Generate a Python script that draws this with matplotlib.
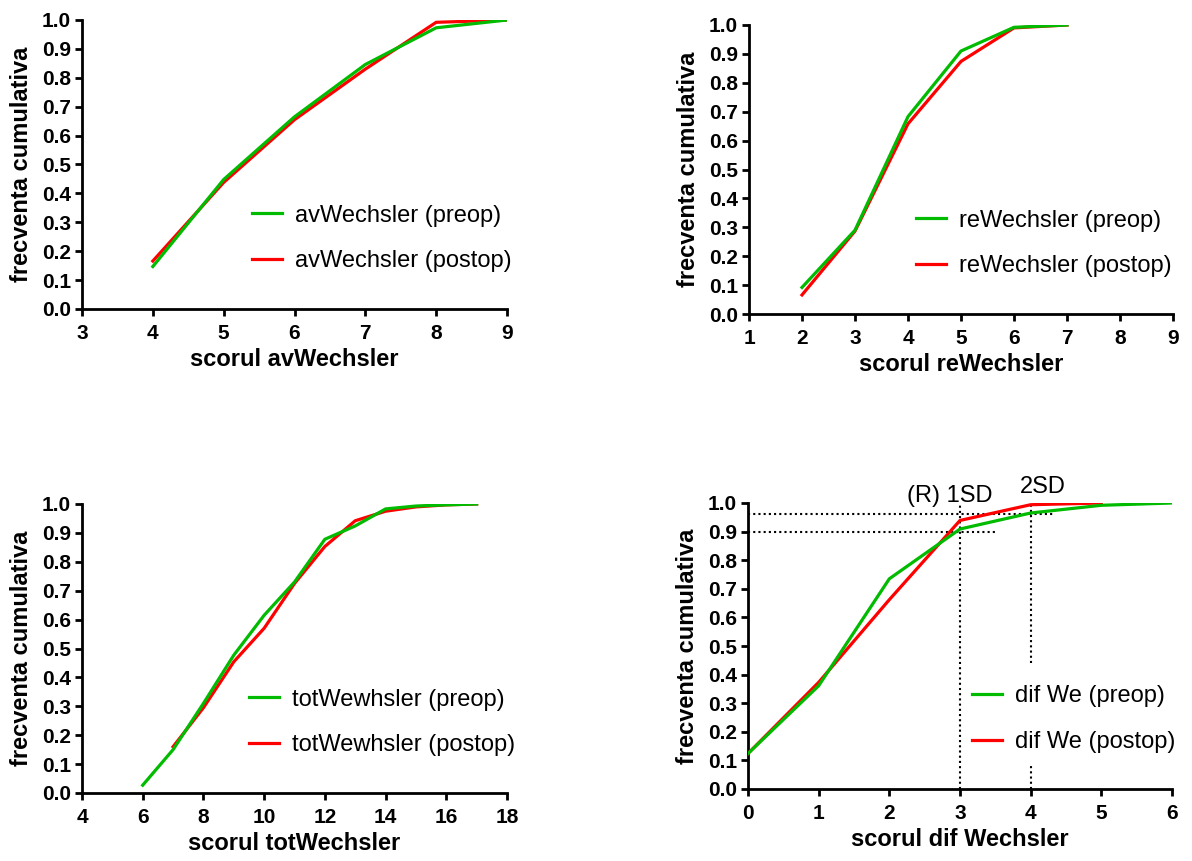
import matplotlib
matplotlib.use('Agg')
import matplotlib.pyplot as plt

plt.rcParams['font.family'] = ['Liberation Sans', 'DejaVu Sans']

GREEN = '#00BB00'
RED = '#FF0000'

# avWechsler
av_x_pre = [4, 5, 6, 7, 8, 9]
av_pre = [0.147, 0.448, 0.665, 0.846, 0.973, 1.0]
av_x_post = [4, 5, 6, 7, 8, 9]
av_post = [0.166, 0.438, 0.655, 0.830, 0.992, 1.0]

# reWechsler
re_x_pre = [2, 3, 4, 5, 6, 7]
re_pre = [0.092, 0.290, 0.683, 0.910, 0.992, 1.0]
re_x_post = [2, 3, 4, 5, 6, 7]
re_post = [0.066, 0.287, 0.658, 0.874, 0.990, 1.0]

# totWechsler
tot_x_pre = [6, 7, 8, 9, 10, 11, 12, 13, 14, 15, 16, 17]
tot_pre = [0.027, 0.150, 0.310, 0.477, 0.615, 0.730, 0.878, 0.924, 0.983, 0.993, 0.997, 1.0]
tot_x_post = [7, 8, 9, 10, 11, 12, 13, 14, 15, 16, 17]
tot_post = [0.160, 0.295, 0.454, 0.570, 0.725, 0.853, 0.942, 0.975, 0.990, 0.997, 1.0]

# dif Wechsler
dif_x_pre = [0, 1, 2, 3, 4, 5, 6]
dif_pre = [0.124, 0.361, 0.735, 0.909, 0.965, 0.992, 1.0]
dif_x_post = [0, 1, 2, 3, 4, 5]
dif_post = [0.124, 0.373, 0.662, 0.939, 0.994, 1.0]

yticks = [round(0.1 * i, 1) for i in range(11)]

panels = [
    # pixel rect (left, top, right, bottom), data, labels, x axis, legend x
    ([82, 20, 507, 309], av_x_pre, av_pre, av_x_post, av_post,
     ('avWechsler (preop)', 'avWechsler (postop)'), (3, 9), range(3, 10),
     'scorul avWechsler', 0.40),
    ([749, 25, 1173, 314], re_x_pre, re_pre, re_x_post, re_post,
     ('reWechsler (preop)', 'reWechsler (postop)'), (1, 9), range(1, 10),
     'scorul reWechsler', 0.394),
    ([82, 504, 507, 793], tot_x_pre, tot_pre, tot_x_post, tot_post,
     ('totWewhsler (preop)', 'totWewhsler (postop)'), (4, 18), range(4, 19, 2),
     'scorul totWechsler', 0.393),
    ([748, 503, 1172, 789], dif_x_pre, dif_pre, dif_x_post, dif_post,
     ('dif We (preop)', 'dif We (postop)'), (0, 6), range(0, 7),
     'scorul dif Wechsler', 0.528),
]

W, H = 1192, 861
fig = plt.figure(figsize=(W / 100, H / 100), dpi=100)

axes = []
for rect, xp, yp, xq, yq, labels, xlim, xt, xlabel, lx in panels:
    l, t, r, b = rect
    ax = fig.add_axes([l / W, 1 - b / H, (r - l) / W, (b - t) / H])
    ax.plot(xq, yq, color=RED, lw=2.3, label=labels[1], zorder=3)
    ax.plot(xp, yp, color=GREEN, lw=2.3, label=labels[0], zorder=4)
    ax.set_xlim(*xlim)
    ax.set_ylim(0, 1.0)
    ax.set_xticks(list(xt))
    ax.set_yticks(yticks)
    ax.set_yticklabels([f'{v:.1f}' for v in yticks])
    for s in ['top', 'right']:
        ax.spines[s].set_visible(False)
    for s in ['left', 'bottom']:
        ax.spines[s].set_linewidth(2)
    ax.tick_params(width=2, length=5, labelsize=15)
    ax.tick_params(axis='x', pad=6)
    ax.tick_params(axis='y', pad=3)
    for lab in ax.get_xticklabels() + ax.get_yticklabels():
        lab.set_fontweight('bold')
    ax.set_xlabel(xlabel, fontsize=17, fontweight='bold', labelpad=3.5)
    ax.set_ylabel('frecventa cumulativa', fontsize=17, fontweight='bold', labelpad=6)
    h, lb = ax.get_legend_handles_labels()
    ax.legend(h[::-1], lb[::-1], loc='center left', bbox_to_anchor=(lx, 0.244),
              frameon=False, fontsize=17, handlelength=1.27, handletextpad=0.55,
              labelspacing=1.0, borderpad=0, borderaxespad=0)
    axes.append(ax)

# reference lines on dif Wechsler panel
ax = axes[3]
dot = dict(color='black', lw=1.5, linestyle=(0, (1, 1.5)), zorder=2)
ax.plot([0, 4.35], [0.962, 0.962], **dot)
ax.plot([0, 3.5], [0.90, 0.90], **dot)
ax.plot([3, 3], [0, 0.993], **dot)
ax.plot([4, 4], [0.44, 0.993], **dot)
ax.plot([4, 4], [0, 0.09], **dot)
ax.text(2.85, 1.005, '(R) 1SD', ha='center', va='baseline', fontsize=17, clip_on=False)
ax.text(4.17, 1.035, '2SD', ha='center', va='baseline', fontsize=17, clip_on=False)

fig.savefig('out.png', dpi=100)
